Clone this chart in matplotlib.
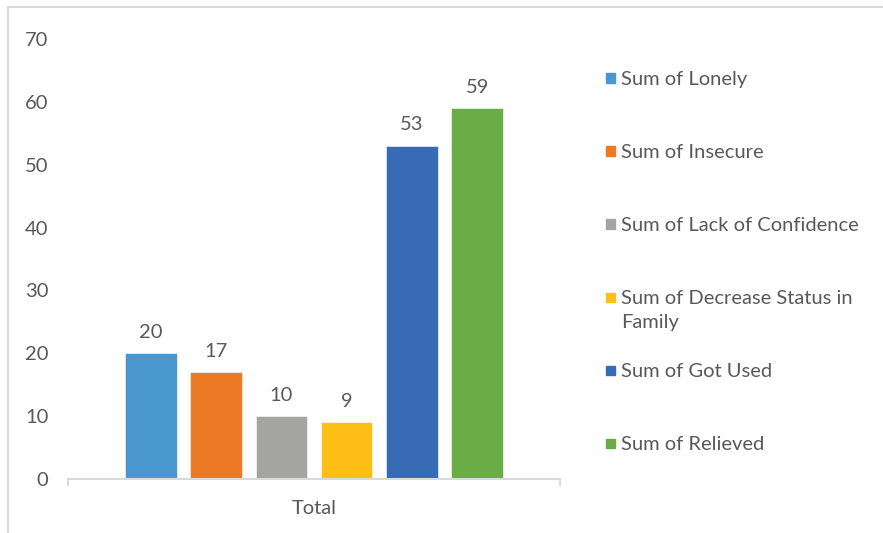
import matplotlib
matplotlib.use('Agg')
import matplotlib.pyplot as plt
from matplotlib.lines import Line2D
from matplotlib.patches import Rectangle

# Pivot totals per series
series = ['Sum of Lonely', 'Sum of Insecure', 'Sum of Lack of Confidence',
          'Sum of Decrease Status in\nFamily', 'Sum of Got Used', 'Sum of Relieved']
values = [20, 17, 10, 9, 53, 59]
colors = ['#4a97cf', '#ec7a25', '#a4a4a3', '#fdbf16', '#386bb5', '#6aad46']
category = 'Total'

plt.rcParams['font.family'] = ['Lato', 'DejaVu Sans']
text_color = '#595959'
line_color = '#d9d9d9'
fs = 14.5

W, H = 883, 533
fig = plt.figure(figsize=(W / 100, H / 100), dpi=100)
ax = fig.add_axes([68 / W, 1 - 479 / H, (560 - 68) / W, (479 - 39) / H])

pitch = 0.1327
width = 0.1047
for i, (lab, v, c) in enumerate(zip(series, values, colors)):
    x = 0.5 + (i - 2.5) * pitch
    b = ax.bar(x, v, width=width, color=c, edgecolor='white', linewidth=0.4, label=lab)
    ax.bar_label(b, labels=[str(v)], padding=9, fontsize=fs, color=text_color)

ax.set_xlim(0, 1)
ax.set_ylim(0, 70)
ax.set_yticks(range(0, 71, 10))
ax.tick_params(axis='y', length=0, pad=14, labelsize=fs, labelcolor=text_color)

ax.set_xticks([0, 1], ['', ''])
ax.tick_params(axis='x', which='major', length=5, width=1.5, color=line_color)
ax.set_xticks([0.5], [category], minor=True)
ax.tick_params(axis='x', which='minor', length=0, pad=15, labelsize=fs, labelcolor=text_color)

for s in ['top', 'right', 'left']:
    ax.spines[s].set_visible(False)
ax.spines['bottom'].set_color(line_color)
ax.spines['bottom'].set_linewidth(1.5)

# legend on the right, one row per series
for i, (lab, c) in enumerate(zip(series, colors)):
    yc = 78 + 73 * i
    fig.add_artist(Rectangle((606 / W, 1 - (yc + 4.5) / H), 9 / W, 9 / H,
                             transform=fig.transFigure, color=c))
    fig.text(621 / W, 1 - (yc - 7) / H, lab, fontsize=fs, color=text_color,
             va='top', ha='left', linespacing=1.5)

# chart area border
fig.add_artist(Line2D([8 / W, 8 / W], [0, 1 - 7 / H], color=line_color, lw=1.5))
fig.add_artist(Line2D([8 / W, 1], [1 - 7 / H, 1 - 7 / H], color=line_color, lw=1.5))

fig.savefig('out.png', dpi=100)
